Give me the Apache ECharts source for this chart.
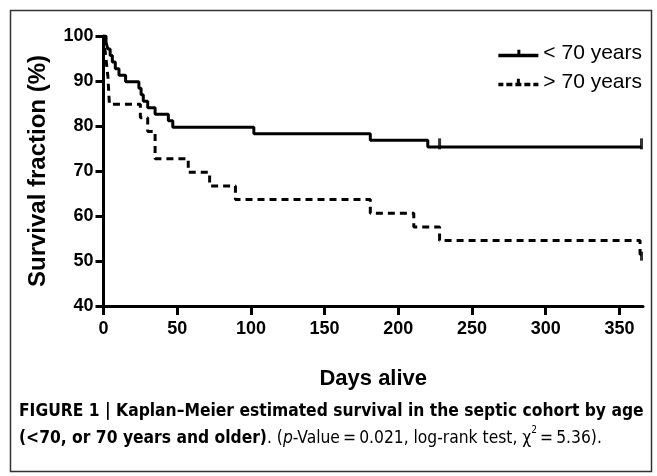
<!DOCTYPE html>
<html>
<head>
<meta charset="utf-8">
<script src="https://cdn.jsdelivr.net/npm/echarts@6/dist/echarts.min.js"></script>
<style>
  html, body { margin: 0; padding: 0; background: #fff; }
  #chart { width: 657px; height: 476px; }
</style>
</head>
<body>
<div id="chart"></div>
<script>
// Kaplan-Meier steps (days, survival %)
var youngDays = [0, 1.7, 3, 4.5, 6, 8, 10.5, 15, 24, 25.5, 27, 30, 35, 44, 47, 102, 181, 220, 365];
var youngSurv = [100, 98.55, 97.1, 95.65, 94.2, 92.75, 91.3, 89.86, 88.41, 86.96, 85.51, 84.06, 82.61, 81.16, 79.71, 78.26, 76.81, 75.36, 75.36];
var oldDays = [0, 1, 2, 3, 3.5, 4, 25, 30, 35, 57.5, 72, 89.5, 181, 210.5, 228, 364, 365];
var oldSurv = [100, 96.97, 93.94, 90.91, 87.88, 84.85, 81.82, 78.79, 72.73, 69.70, 66.67, 63.64, 60.61, 57.58, 54.55, 51.52, 51.52];
// censored observations
var youngCensor = [[228, 75.36], [365, 75.36]];
var oldCensor = [[365, 51.52]];

var seriesNames = ['< 70 years', '> 70 years'];
var yTicks = { min: 40, max: 100, step: 10 };
var xTicks = { min: 0, max: 366, step: 50 };

function pairs(xs, ys) {
    return xs.map(function (x, i) { return [x, ys[i]]; });
}

var FONT = '"Liberation Sans", Arial, Helvetica, sans-serif';
var NARROW = '"Liberation Sans Narrow", "DejaVu Sans Condensed", "Liberation Sans", sans-serif';

var chart = echarts.init(document.getElementById('chart'), null, { renderer: 'canvas' });

var option = {
    backgroundColor: '#fff',
    animation: false,
    grid: { left: 103.5, right: 14, top: 36, bottom: 170 },
    legend: {
        orient: 'vertical',
        right: 10,
        top: 38,
        itemWidth: 40,
        itemHeight: 11,
        itemGap: 8,
        textStyle: { fontFamily: FONT, fontSize: 21, color: '#000' },
        itemStyle: { borderWidth: 0 },
        data: [
            { name: seriesNames[0], icon: 'path://M0,4h40v3.5h-40z M19,0h3v7.5h-3z' },
            { name: seriesNames[1], icon: 'path://M0,4h5v3.5h-5z M8,4h6v3.5h-6z M17,4h6v3.5h-6z M26,4h6v3.5h-6z M35,4h5v3.5h-5z M18.5,0h3v7.5h-3z' }
        ]
    },
    xAxis: {
        type: 'value',
        min: xTicks.min,
        max: xTicks.max,
        interval: xTicks.step,
        name: 'Days alive',
        nameLocation: 'middle',
        nameGap: 62,
        nameTextStyle: { fontFamily: FONT, fontWeight: 'bold', fontSize: 22, color: '#000' },
        axisLine: { onZero: false, lineStyle: { color: '#000', width: 3 } },
        axisTick: { inside: false, length: 9, lineStyle: { color: '#000', width: 3 } },
        axisLabel: { fontFamily: FONT, fontWeight: 'bold', fontSize: 18, color: '#000', margin: 14, showMaxLabel: false },
        splitLine: { show: false }
    },
    yAxis: {
        type: 'value',
        min: yTicks.min,
        max: yTicks.max,
        interval: yTicks.step,
        name: 'Survival fraction (%)',
        nameLocation: 'middle',
        nameRotate: 90,
        nameGap: 53,
        nameTextStyle: { fontFamily: FONT, fontWeight: 'bold', fontSize: 24, color: '#000' },
        axisLine: { show: true, onZero: false, lineStyle: { color: '#000', width: 3 } },
        axisTick: { show: true, inside: false, length: 8, lineStyle: { color: '#000', width: 3 } },
        axisLabel: { fontFamily: FONT, fontWeight: 'bold', fontSize: 18, color: '#000', margin: 10 },
        splitLine: { show: false }
    },
    series: [
        {
            name: seriesNames[0],
            type: 'line',
            step: 'end',
            symbol: 'none',
            color: '#000',
            lineStyle: { color: '#000', width: 3 },
            data: pairs(youngDays, youngSurv),
            z: 3
        },
        {
            name: seriesNames[1],
            type: 'line',
            step: 'end',
            symbol: 'none',
            color: '#000',
            lineStyle: { color: '#000', width: 3, type: [7, 5] },
            data: pairs(oldDays, oldSurv),
            z: 2
        },
        {
            name: seriesNames[0],
            type: 'scatter',
            symbol: 'rect',
            symbolSize: [3, 11],
            symbolOffset: [0, -3],
            itemStyle: { color: '#000' },
            data: youngCensor,
            z: 4
        },
        {
            name: seriesNames[1],
            type: 'scatter',
            symbol: 'rect',
            symbolSize: [3, 9],
            symbolOffset: [0, 2],
            itemStyle: { color: '#000' },
            data: oldCensor,
            z: 4
        }
    ],
    graphic: [
        {
            type: 'rect',
            left: 8, top: 8,
            shape: { width: 641, height: 461 },
            style: { fill: 'none', stroke: '#333', lineWidth: 1.5 },
            silent: true
        },
        {
            type: 'text',
            left: 19, top: 403,
            style: {
                text: '{b|FIGURE 1 | Kaplan\u2013Meier estimated survival in the septic cohort by age}\n' +
                      '{b|(<70, or 70 years and older)}{n|. (}{i|p}{n|-Value\u2009=\u20090.021, log-rank test, \u03c7}{s|2}{n|\u2009=\u20095.36).}',
                rich: {
                    b: { fontFamily: NARROW, fontWeight: 'bold', fontSize: 17.3, color: '#111', lineHeight: 27 },
                    n: { fontFamily: NARROW, fontSize: 17.3, color: '#111', lineHeight: 27 },
                    i: { fontFamily: NARROW, fontStyle: 'italic', fontSize: 17.3, color: '#111', lineHeight: 27 },
                    s: { fontFamily: NARROW, fontSize: 10, color: '#111', verticalAlign: 'top', lineHeight: 27, padding: [0, 0, 8, 0] }
                }
            }
        }
    ]
};

chart.setOption(option);
window.onresize = function () { chart.resize(); };
</script>
</body>
</html>
